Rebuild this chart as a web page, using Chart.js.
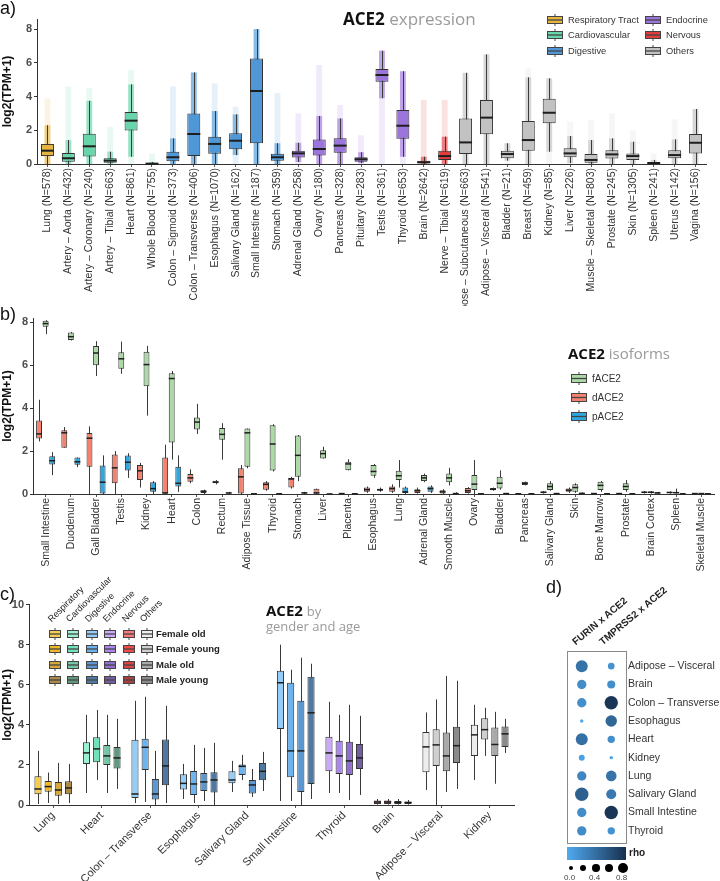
<!DOCTYPE html>
<html>
<head>
<meta charset="utf-8">
<script src="https://cdn.jsdelivr.net/npm/chart.js@4.4.1/dist/chart.umd.min.js"></script>
<style>
  body { margin: 0; width: 720px; height: 881px; position: relative; background: #fff; overflow: hidden;
         font-family: "Liberation Sans", Arial, sans-serif; color: #222; }
  canvas { position: absolute; }
  .abs { position: absolute; white-space: nowrap; }
  .letter { font-size: 18px; color: #111; }
  .ttl { font-family: "Open Sans", sans-serif; line-height: 1; }
  .ttl b { color: #111; }
  .ttl span { color: #9a9a9a; }
  .leg { font-size: 9.3px; color: #333; display: flex; align-items: center; gap: 5px; }
  .legc { font-size: 9.5px; font-weight: bold; color: #222; }
  .hdr { transform-origin: left bottom; transform: rotate(-45deg); font-size: 9px; color: #222; }
</style>
</head>
<body>
<canvas id="chartA" width="720" height="306" style="left:0;top:0"></canvas>
<canvas id="chartB" width="720" height="290" style="left:0;top:306px"></canvas>
<canvas id="chartC" width="540" height="285" style="left:0;top:596px"></canvas>
<canvas id="chartD" width="180" height="215" style="left:540px;top:640px"></canvas>

<div class="abs letter" style="left:0;top:-2px">a)</div>
<div class="abs letter" style="left:0;top:304px">b)</div>
<div class="abs letter" style="left:0;top:584px">c)</div>
<div class="abs letter" style="left:546px;top:577px">d)</div>

<div class="abs ttl" style="left:343px;top:10px;font-size:17px"><b>ACE2</b> <span>expression</span></div>
<div class="abs ttl" style="left:568px;top:346px;font-size:15px"><b>ACE2</b> <span>isoforms</span></div>
<div class="abs ttl" style="left:266px;top:603px;font-size:15px"><b>ACE2</b> <span style="font-size:13px">by</span><br><span style="font-size:13px">gender and age</span></div>

<div id="legends"></div>

<script>
// ---------- panel a: ACE2 expression across GTEx tissues ----------
const tissuesA = ['Lung', 'Artery \u2013 Aorta', 'Artery \u2013 Coronary', 'Artery \u2013 Tibial', 'Heart', 'Whole Blood',
  'Colon \u2013 Sigmoid', 'Colon \u2013 Transverse', 'Esophagus', 'Salivary Gland', 'Small Intestine', 'Stomach',
  'Adrenal Gland', 'Ovary', 'Pancreas', 'Pituitary', 'Testis', 'Thyroid', 'Brain', 'Nerve \u2013 Tibial',
  'Adipose \u2013 Subcutaneous', 'Adipose \u2013 Visceral', 'Bladder', 'Breast', 'Kidney', 'Liver',
  'Muscle \u2013 Skeletal', 'Prostate', 'Skin', 'Spleen', 'Uterus', 'Vagina']
const samplesA = [578, 432, 240, 663, 861, 755, 373, 406, 1070, 162, 187, 359, 258, 180, 328, 283, 361, 653, 2642, 619,
  663, 541, 21, 459, 85, 226, 803, 245, 1305, 241, 142, 156]
const systemA = ['Respiratory Tract', 'Cardiovascular', 'Cardiovascular', 'Cardiovascular', 'Cardiovascular', 'Cardiovascular',
  'Digestive', 'Digestive', 'Digestive', 'Digestive', 'Digestive', 'Digestive',
  'Endocrine', 'Endocrine', 'Endocrine', 'Endocrine', 'Endocrine', 'Endocrine', 'Nervous', 'Nervous',
  'Others', 'Others', 'Others', 'Others', 'Others', 'Others', 'Others', 'Others', 'Others', 'Others', 'Others', 'Others']
const loA  = [0, 0, 0, 0, 0.43, 0, 0, 0, 0, 0.53, 0, 0, 0.12, 0, 0, 0.05, 3.9, 0.43, 0, 0, 0, 0, 0.2, 0, 0.73, 0.05, 0, 0, 0, 0, 0, 0]
const q1A  = [0.47, 0.14, 0.45, 0.08, 1.98, 0, 0.16, 0.47, 0.61, 0.87, 1.23, 0.2, 0.38, 0.51, 0.67, 0.14, 4.88, 1.5, 0.04, 0.24,
  0.59, 1.76, 0.34, 0.79, 2.41, 0.4, 0.08, 0.32, 0.24, 0.03, 0.34, 0.63]
const medA = [0.79, 0.34, 1.05, 0.2, 2.57, 0.02, 0.4, 1.78, 1.19, 1.38, 4.33, 0.4, 0.63, 0.89, 1.09, 0.28, 5.28, 2.27, 0.1, 0.47,
  1.28, 2.75, 0.59, 1.42, 3.04, 0.63, 0.24, 0.57, 0.47, 0.06, 0.53, 1.26]
const q3A  = [1.19, 0.65, 1.8, 0.34, 3.08, 0.05, 0.73, 3.0, 1.62, 1.82, 6.26, 0.61, 0.79, 1.46, 1.52, 0.4, 5.63, 3.2, 0.2, 0.79,
  2.7, 3.8, 0.79, 2.55, 3.87, 0.93, 0.59, 0.81, 0.63, 0.08, 0.81, 1.78]
const hiA  = [2.3, 1.42, 3.75, 0.73, 4.72, 0.12, 1.52, 5.43, 3.14, 2.94, 8.0, 1.23, 1.26, 2.85, 2.7, 0.7, 6.72, 5.5, 0.43, 1.62,
  5.41, 6.5, 1.23, 5.14, 5.08, 1.66, 1.42, 1.52, 1.32, 0.24, 1.46, 3.26]
const maxA = [3.9, 4.6, 4.5, 2.2, 5.57, 0.6, 4.6, 5.43, 4.78, 3.4, 8.0, 4.2, 3.0, 5.87, 3.5, 1.7, 6.72, 5.5, 3.8, 3.8,
  5.41, 6.5, 1.23, 5.67, 5.08, 2.5, 2.6, 3.0, 2.0, 0.63, 2.65, 3.26]
const systemColors = {
  'Respiratory Tract': '#e6b541', 'Cardiovascular': '#68d6aa', 'Digestive': '#4f97d6',
  'Endocrine': '#9c75dc', 'Nervous': '#e23d3d', 'Others': '#c2c2c2',
}

// ---------- panel b: ACE2 isoforms (lo, q1, median, q3, hi) ----------
const tissuesB = ['Small Intestine', 'Duodenum', 'Gall Bladder', 'Testis', 'Kidney', 'Heart', 'Colon', 'Rectum',
  'Adipose Tissue', 'Thyroid', 'Stomach', 'Liver', 'Placenta', 'Esophagus', 'Lung', 'Adrenal Gland', 'Smooth Muscle',
  'Ovary', 'Bladder', 'Pancreas', 'Salivary Gland', 'Skin', 'Bone Marrow', 'Prostate', 'Brain Cortex', 'Spleen', 'Skeletal Muscle']
const fACE2 = [
  [7.45, 7.79, 7.94, 8.07, 8.1], [7.15, 7.17, 7.33, 7.53, 7.55], [5.5, 6.0, 6.57, 6.9, 7.12], [5.6, 5.83, 6.3, 6.6, 7.1],
  [3.65, 5.02, 6.03, 6.63, 6.9], [1.6, 2.4, 5.38, 5.63, 5.73], [2.8, 3.0, 3.35, 3.56, 4.2], [1.6, 2.53, 2.78, 3.07, 3.3],
  [1.2, 1.27, 2.85, 3.05, 3.05], [1.05, 1.1, 2.33, 3.2, 3.25], [0.6, 0.8, 1.8, 2.73, 2.75], [1.65, 1.65, 1.88, 2.04, 2.2],
  [1.1, 1.11, 1.4, 1.5, 1.62], [0.75, 0.85, 1.05, 1.35, 1.4], [0.3, 0.65, 0.85, 1.08, 1.58], [0.55, 0.6, 0.75, 0.88, 0.95],
  [0.4, 0.55, 0.75, 0.96, 1.22], [0, 0.19, 0.46, 0.88, 1.58], [0.2, 0.26, 0.5, 0.8, 1.1], [0.4, 0.42, 0.5, 0.57, 0.58],
  [0.15, 0.19, 0.35, 0.5, 0.6], [0.05, 0.11, 0.3, 0.46, 0.5], [0.1, 0.19, 0.4, 0.57, 0.6], [0.1, 0.19, 0.35, 0.5, 0.65],
  [0.02, 0.05, 0.08, 0.12, 0.14], [0.02, 0.03, 0.06, 0.1, 0.25], [0, 0.01, 0.02, 0.03, 0.04]]
const dACE2 = [
  [2.45, 2.58, 2.8, 3.43, 4.39], [2.16, 2.16, 2.85, 2.97, 3.12], [0, 1.27, 2.6, 2.84, 3.15], [0, 0.5, 1.22, 1.84, 2.0],
  [0.3, 0.65, 1.08, 1.35, 1.45], [0, 0, 0.05, 1.7, 2.3], [0.5, 0.57, 0.75, 0.93, 1.15], [0.45, 0.5, 0.55, 0.62, 0.65],
  [0, 0, 0.8, 1.2, 1.35], [0.15, 0.2, 0.45, 0.55, 0.6], [0.25, 0.3, 0.7, 0.75, 0.8], [0, 0, 0.05, 0.25, 0.25],
  [0, 0.01, 0.02, 0.03, 0.04], [0.05, 0.1, 0.2, 0.3, 0.35], [0.05, 0.1, 0.25, 0.35, 0.45], [0.02, 0.05, 0.15, 0.22, 0.3],
  [0, 0.02, 0.1, 0.18, 0.22], [0.02, 0.05, 0.15, 0.28, 0.32], [0.15, 0.18, 0.22, 0.28, 0.3], [0, 0, 0.01, 0.02, 0.03],
  [0.02, 0.04, 0.08, 0.12, 0.14], [0.05, 0.1, 0.18, 0.26, 0.3], [0, 0.01, 0.02, 0.03, 0.04], [0, 0.01, 0.02, 0.03, 0.05],
  [0.02, 0.05, 0.08, 0.12, 0.14], [0.02, 0.05, 0.07, 0.1, 0.12], [0, 0.01, 0.02, 0.03, 0.04]]
const pACE2 = [
  [0.88, 1.38, 1.55, 1.76, 1.95], [1.25, 1.36, 1.5, 1.7, 1.7], [0, 0, 0.55, 1.33, 1.8], [0.75, 1.1, 1.48, 1.79, 1.9],
  [0, 0.1, 0.25, 0.55, 0.6], [0.1, 0.35, 0.5, 1.27, 1.8], [0, 0.05, 0.12, 0.18, 0.2], [0, 0.02, 0.05, 0.06, 0.1],
  [0, 0, 0.01, 0.02, 0.03], [0, 0, 0.01, 0.02, 0.03], [0, 0.02, 0.05, 0.08, 0.1], [0, 0, 0, 0.01, 0.02],
  [0, 0, 0.01, 0.02, 0.03], [0.1, 0.15, 0.2, 0.25, 0.3], [0, 0.05, 0.1, 0.3, 0.35], [0.05, 0.1, 0.25, 0.35, 0.4],
  [0, 0, 0.02, 0.05, 0.08], [0, 0, 0.01, 0.02, 0.04], [0, 0.01, 0.02, 0.03, 0.04], [0, 0, 0.01, 0.02, 0.03],
  [0, 0.01, 0.02, 0.03, 0.05], [0, 0.01, 0.03, 0.05, 0.07], [0, 0, 0.01, 0.02, 0.03], [0, 0, 0.01, 0.02, 0.03],
  [0, 0.02, 0.05, 0.08, 0.1], [0, 0, 0.01, 0.02, 0.03], [0, 0, 0.01, 0.02, 0.03]]
const isoformColors = { fACE2: '#acd9a6', dACE2: '#f3826f', pACE2: '#2fa7e2' }

// ---------- panel c: by gender and age ----------
const tissuesC = ['Lung', 'Heart', 'Colon \u2013 Transverse', 'Esophagus', 'Salivary Gland', 'Small Intestine',
  'Thyroid', 'Brain', 'Adipose \u2013 Visceral', 'Kidney']
const systemC = ['Respiratory', 'Cardiovascular', 'Digestive', 'Digestive', 'Digestive', 'Digestive',
  'Endocrine', 'Nervous', 'Others', 'Others']
const groupsC = ['Female old', 'Female young', 'Male old', 'Male young']
const femaleOld = [
  [0.05, 0.54, 0.8, 1.44, 2.7], [0.6, 2.05, 2.6, 3.13, 4.5], [0.1, 0.35, 0.55, 3.26, 5.2], [0.3, 0.77, 1.08, 1.53, 2.05],
  [0.65, 1.08, 1.25, 1.69, 2.2], [0.2, 3.79, 6.1, 6.7, 8.0], [0.6, 1.68, 2.6, 3.4, 5.15], [0.02, 0.05, 0.15, 0.22, 0.3],
  [0.75, 1.64, 2.9, 3.64, 4.62], [1.25, 2.45, 3.5, 4.0, 5.0]]
const femaleYoung = [
  [0.1, 0.66, 0.92, 1.2, 1.62], [1.25, 2.13, 2.8, 3.38, 4.74], [0.15, 1.75, 2.88, 3.3, 5.4], [0.1, 0.5, 1.05, 1.7, 3.0],
  [1.25, 1.5, 1.93, 2.02, 2.5], [0.2, 1.38, 2.7, 6.1, 6.75], [0.6, 1.55, 2.45, 3.2, 4.5], [0.02, 0.05, 0.15, 0.22, 0.3],
  [0, 1.95, 3.0, 3.78, 5.27], [2.45, 3.27, 3.76, 4.33, 4.85]]
const maleOld = [
  [0.05, 0.46, 0.75, 1.15, 2.1], [0.6, 2.0, 2.45, 3.0, 4.5], [0, 0.28, 0.55, 1.3, 2.7], [0.2, 0.7, 1.15, 1.6, 2.85],
  [0.4, 0.57, 1.0, 1.25, 1.8], [0, 0.65, 2.7, 5.2, 7.35], [0.25, 1.5, 2.2, 3.15, 5.0], [0.02, 0.05, 0.13, 0.2, 0.3],
  [0.65, 1.68, 2.45, 3.62, 6.44], [1.06, 2.45, 3.02, 3.87, 4.65]]
const maleYoung = [
  [0.1, 0.54, 0.85, 1.18, 2.05], [0.8, 1.82, 2.35, 2.9, 4.3], [0.1, 0.98, 1.95, 3.27, 4.95], [0, 0.62, 1.25, 1.64, 3.1],
  [0.7, 1.23, 1.68, 2.1, 2.65], [0.3, 1.05, 4.6, 6.4, 7.05], [0.5, 1.8, 2.35, 3.05, 4.45], [0.02, 0.05, 0.12, 0.18, 0.25],
  [0.8, 2.1, 2.96, 3.9, 6.2], [2.6, 2.89, 3.55, 3.92, 4.3]]
const shadesC = {
  Respiratory:    ['#f6cd52', '#efb82b', '#d6a83c', '#ad8a45'],
  Cardiovascular: ['#9cf1d0', '#6fe2b8', '#72c7a4', '#5f9a80'],
  Digestive:      ['#94cdf7', '#6db4ef', '#5b98d1', '#4f78a2'],
  Endocrine:      ['#caa9f7', '#aa86ee', '#8f70cf', '#735ea0'],
  Nervous:        ['#f77a7a', '#f04a4a', '#d64545', '#a84040'],
  Others:         ['#ededed', '#cfcfcf', '#a9a9a9', '#8a8a8a'],
}

// ---------- panel d: co-expression with ACE2 ----------
const tissuesD = ['Adipose \u2013 Visceral', 'Brain', 'Colon \u2013 Transverse', 'Esophagus', 'Heart', 'Kidney', 'Lung',
  'Salivary Gland', 'Small Intestine', 'Thyroid']
const pairsD = ['FURIN x ACE2', 'TMPRSS2 x ACE2']
const rhoFurin    = [0.36, 0.2, 0.18, 0.04, 0.38, 0.06, 0.24, 0.48, 0.2, 0.2]
const rhoTmprss2  = [0.16, 0.18, 0.76, 0.44, 0.18, 0.04, 0.36, 0.32, 0.76, 0.16]
const sizeFurin   = [0.72, 0.52, 0.52, 0.06, 0.72, 0.26, 0.52, 0.83, 0.52, 0.52]
const sizeTmprss2 = [0.31, 0.42, 0.83, 0.68, 0.37, 0.06, 0.62, 0.57, 0.83, 0.37]

Chart.defaults.font.family = '"Liberation Sans", Arial, sans-serif'
Chart.defaults.animation = false

// whiskers + sample bands under the boxes, medians over them
const boxplotPlugin = {
  id: 'boxplot',
  beforeDatasetsDraw(chart) {
    const ctx = chart.ctx
    const y = chart.scales.y
    ctx.save()
    chart.data.datasets.forEach((ds, i) => {
      chart.getDatasetMeta(i).data.forEach((bar, j) => {
        const s = ds.stats[j]
        if (ds.maxValues) {
          const color = ds.backgroundColor[j]
          const w = bar.width * 0.45
          ctx.fillStyle = color
          ctx.globalAlpha = 0.15
          ctx.fillRect(bar.x - w / 2, y.getPixelForValue(ds.maxValues[j]), w, y.getPixelForValue(0) - y.getPixelForValue(ds.maxValues[j]))
          ctx.globalAlpha = 0.6
          ctx.fillRect(bar.x - w / 2, y.getPixelForValue(s[4]), w, y.getPixelForValue(s[0]) - y.getPixelForValue(s[4]))
          ctx.globalAlpha = 1
        }
        ctx.strokeStyle = '#3a3a3a'
        ctx.lineWidth = 1
        ctx.beginPath()
        ctx.moveTo(Math.round(bar.x) + 0.5, y.getPixelForValue(s[0]))
        ctx.lineTo(Math.round(bar.x) + 0.5, y.getPixelForValue(s[4]))
        ctx.stroke()
      })
    })
    ctx.restore()
  },
  afterDatasetsDraw(chart) {
    const ctx = chart.ctx
    const y = chart.scales.y
    ctx.save()
    chart.data.datasets.forEach((ds, i) => {
      chart.getDatasetMeta(i).data.forEach((bar, j) => {
        const py = y.getPixelForValue(ds.stats[j][2])
        ctx.strokeStyle = '#1e1e1e'
        ctx.lineWidth = ds.medianWidth || 1.5
        ctx.beginPath()
        ctx.moveTo(bar.x - bar.width / 2, py)
        ctx.lineTo(bar.x + bar.width / 2, py)
        ctx.stroke()
      })
    })
    ctx.restore()
  },
}

const yAxis = (max, width) => ({
  min: 0, max,
  border: { color: '#333', width: 1 },
  grid: { drawOnChartArea: false, color: '#333', tickLength: 3 },
  ticks: { stepSize: 2, includeBounds: false, color: '#4d4d4d', font: { size: 11, weight: 'bold' }, padding: 2 },
  title: { display: true, text: 'log2(TPM+1)', color: '#111', font: { size: 12, weight: 'bold' }, padding: { top: 0, bottom: 2 } },
  afterFit: (scale) => { scale.width = width },
})

const xAxis = (rotation, height, fontSize) => ({
  offset: true,
  border: { color: '#333', width: 1 },
  grid: { drawOnChartArea: false, color: '#555', tickLength: 3, offset: false },
  ticks: { color: '#333', font: { size: fontSize }, minRotation: rotation, maxRotation: rotation, autoSkip: false, padding: 1 },
  afterFit: (scale) => { scale.height = height },
})

const baseOptions = (padding) => ({
  responsive: false,
  layout: { padding },
  plugins: { legend: { display: false }, tooltip: { enabled: false } },
})

const boxDataset = (label, stats, colors, extra = {}) => ({
  label,
  data: stats.map(s => [s[1], s[3]]),
  stats,
  backgroundColor: colors,
  borderColor: '#333',
  borderWidth: 1,
  borderSkipped: false,
  ...extra,
})

// panel a
const statsA = tissuesA.map((_, i) => [loA[i], q1A[i], medA[i], q3A[i], hiA[i]])
const colorsA = systemA.map(s => systemColors[s])
new Chart(document.getElementById('chartA'), {
  type: 'bar',
  data: {
    labels: tissuesA.map((t, i) => `${t} (N=${samplesA[i]})`),
    datasets: [boxDataset('ACE2', statsA, colorsA, { maxValues: maxA, barPercentage: 0.62, categoryPercentage: 1, medianWidth: 2 })],
  },
  options: {
    ...baseOptions({ top: 19, right: 14, left: 0, bottom: 0 }),
    scales: { x: xAxis(90, 142, 10.5), y: yAxis(8.6, 37) },
  },
  plugins: [boxplotPlugin],
})

// panel b (dodged alphabetically: dACE2, fACE2, pACE2)
new Chart(document.getElementById('chartB'), {
  type: 'bar',
  data: {
    labels: tissuesB,
    datasets: [
      boxDataset('dACE2', dACE2, isoformColors.dACE2, { barPercentage: 0.9, categoryPercentage: 0.78 }),
      boxDataset('fACE2', fACE2, isoformColors.fACE2, { barPercentage: 0.9, categoryPercentage: 0.78 }),
      boxDataset('pACE2', pACE2, isoformColors.pACE2, { barPercentage: 0.9, categoryPercentage: 0.78 }),
    ],
  },
  options: {
    ...baseOptions({ top: 12, right: 6, left: 0, bottom: 0 }),
    scales: { x: xAxis(90, 102, 10.5), y: yAxis(8.2, 33) },
  },
  plugins: [boxplotPlugin],
})

// panel c
const seriesC = [femaleOld, femaleYoung, maleOld, maleYoung]
new Chart(document.getElementById('chartC'), {
  type: 'bar',
  data: {
    labels: tissuesC,
    datasets: groupsC.map((g, k) => boxDataset(g, seriesC[k], systemC.map(s => shadesC[s][k]),
      { barPercentage: 0.7, categoryPercentage: 0.84 })),
  },
  options: {
    ...baseOptions({ top: 5, right: 26, left: 0, bottom: 0 }),
    scales: { x: xAxis(45, 76, 11), y: yAxis(10, 29) },
  },
  plugins: [boxplotPlugin],
})

// panel d
const lerp = (a, b, t) => Math.round(a + (b - a) * t)
const rhoColor = (rho) => {
  const t = Math.min(1, Math.max(0, rho / 0.8))
  return `rgb(${lerp(0x50, 0x17, t)},${lerp(0xaa, 0x30, t)},${lerp(0xf0, 0x4f, t)})`
}
const radius = (s) => 1.3 + 6.5 * s
const framePlugin = {
  id: 'frame',
  beforeDatasetsDraw(chart) {
    const { ctx, chartArea: a } = chart
    ctx.save()
    ctx.strokeStyle = '#8a8a8a'
    ctx.lineWidth = 1
    ctx.strokeRect(Math.round(a.left) + 0.5, Math.round(a.top - 6) + 0.5, Math.round(a.right - a.left), Math.round(a.bottom - a.top + 9))
    ctx.restore()
  },
}
const rhosD = [rhoFurin, rhoTmprss2]
const sizesD = [sizeFurin, sizeTmprss2]
new Chart(document.getElementById('chartD'), {
  type: 'bubble',
  data: {
    datasets: pairsD.map((p, k) => ({
      label: p,
      data: tissuesD.map((t, i) => ({ x: p, y: t, r: radius(sizesD[k][i]) })),
      backgroundColor: rhosD[k].map(rhoColor),
      borderWidth: 0,
      clip: false,
    })),
  },
  options: {
    ...baseOptions({ top: 17, right: 0, left: 27, bottom: 15 }),
    scales: {
      x: { type: 'category', labels: pairsD, offset: true, display: false },
      y: {
        type: 'category', labels: tissuesD, offset: true, position: 'right',
        grid: { display: false, drawTicks: false }, border: { display: false },
        ticks: { color: '#333', font: { size: 10.5 }, padding: 2, autoSkip: false },
        afterFit: (scale) => { scale.width = 94 },
      },
    },
  },
  plugins: [framePlugin],
})

// ---------- legends (html) ----------
const boxIcon = (color, w = 15, h = 12) =>
  `<svg width="${w}" height="${h}" viewBox="0 0 ${w} ${h}"><line x1="${w / 2}" y1="0" x2="${w / 2}" y2="${h}" stroke="#444"/>` +
  `<rect x="0.5" y="2.5" width="${w - 1}" height="${h - 5}" fill="${color}" stroke="#444"/>` +
  `<line x1="0.5" y1="${h / 2}" x2="${w - 0.5}" y2="${h / 2}" stroke="#444" stroke-width="1.3"/></svg>`

const legends = document.getElementById('legends')
const addHtml = (html) => legends.insertAdjacentHTML('beforeend', html)

Object.keys(systemColors).forEach((name, i) => {
  const left = i < 3 ? 547 : 645
  const top = 14 + (i % 3) * 15.4
  addHtml(`<div class="abs leg" style="left:${left}px;top:${top}px">${boxIcon(systemColors[name], 16, 12)}<span>${name}</span></div>`)
})

;['fACE2', 'dACE2', 'pACE2'].forEach((name, i) => {
  addHtml(`<div class="abs leg" style="left:571px;top:${372 + i * 19}px;font-size:10px">${boxIcon(isoformColors[name], 16, 13)}<span>${name}</span></div>`)
})

const headersC = ['Respiratory', 'Cardiovascular', 'Digestive', 'Endocrine', 'Nervous', 'Others']
const iconXC = [49, 67, 86, 104, 123, 141]
headersC.forEach((h, i) => {
  addHtml(`<div class="abs hdr" style="left:${iconXC[i] + 4}px;top:${614}px">${h}</div>`)
  groupsC.forEach((g, k) => {
    addHtml(`<div class="abs" style="left:${iconXC[i]}px;top:${628 + k * 15.3}px;line-height:0">${boxIcon(shadesC[h][k], 12, 12)}</div>`)
  })
})
groupsC.forEach((g, k) => {
  addHtml(`<div class="abs legc" style="left:156px;top:${628 + k * 15.3}px">${g}</div>`)
})

// panel d headers and legends
addHtml(`<div class="abs" style="left:577px;top:636px;transform-origin:left bottom;transform:rotate(-40deg);font-size:10px;font-weight:bold;color:#222">FURIN x ACE2</div>`)
addHtml(`<div class="abs" style="left:604px;top:636px;transform-origin:left bottom;transform:rotate(-40deg);font-size:10px;font-weight:bold;color:#222">TMPRSS2 x ACE2</div>`)
addHtml(`<div class="abs" style="left:567px;top:847px;width:59px;height:13px;background:linear-gradient(to right, ${rhoColor(0)}, ${rhoColor(0.8)})"></div>`)
addHtml(`<div class="abs" style="left:629px;top:847px;font-size:10px;font-weight:bold;color:#222">rho</div>`)
;[[571, 2.3], [583, 3], [596, 3.7], [609, 4.3], [623, 5]].forEach(([x, r]) => {
  addHtml(`<div class="abs" style="left:${x - r}px;top:${868 - r}px;width:${2 * r}px;height:${2 * r}px;border-radius:50%;background:#000"></div>`)
})
;[['0.0', 571], ['0.4', 596], ['0.8', 623]].forEach(([t, x]) => {
  addHtml(`<div class="abs" style="left:${x - 7}px;top:873px;font-size:8px;color:#444">${t}</div>`)
})
</script>
</body>
</html>
